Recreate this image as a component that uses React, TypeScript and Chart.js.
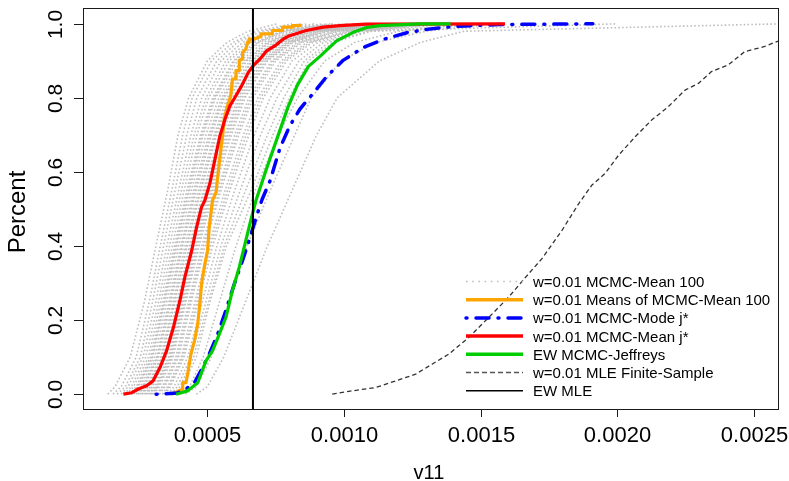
import React, { useEffect, useRef } from "react";
import { Chart, registerables } from "chart.js";

Chart.register(...registerables);

// ---- axes ----
const X_MIN = 4.54e-5;
const X_MAX = 2.591e-3;
const Y_MIN = -0.04;
const Y_MAX = 1.04;
const X_TICKS = [0.0005, 0.001, 0.0015, 0.002, 0.0025];
const X_TICK_LABELS = ["0.0005", "0.0010", "0.0015", "0.0020", "0.0025"];
const Y_TICKS = [0, 0.2, 0.4, 0.6, 0.8, 1.0];
const Y_TICK_LABELS = ["0.0", "0.2", "0.4", "0.6", "0.8", "1.0"];
const X_TITLE = "v11";
const Y_TITLE = "Percent";

const LEGEND_LABELS = [
  "w=0.01 MCMC-Mean 100",
  "w=0.01 Means of MCMC-Mean 100",
  "w=0.01 MCMC-Mode j*",
  "w=0.01 MCMC-Mean j*",
  "EW MCMC-Jeffreys",
  "w=0.01 MLE Finite-Sample",
  "EW MLE",
];

// ---- gray ECDF curves: x value at each percent level ----
const GRAY_LEVELS = [0, 0.02, 0.1, 0.25, 0.4, 0.55, 0.7, 0.8, 0.9, 0.95, 0.98, 1];
const GRAY_CURVES_X = [
  [1.36e-4, 1.62e-4, 2.18e-4, 2.7e-4, 3.12e-4, 3.55e-4, 3.93e-4, 4.32e-4, 5.0e-4, 5.72e-4, 6.5e-4, 7.55e-4],
  [1.55e-4, 1.85e-4, 2.4e-4, 2.88e-4, 3.28e-4, 3.7e-4, 4.1e-4, 4.45e-4, 5.15e-4, 5.95e-4, 6.8e-4, 8.1e-4],
  [1.7e-4, 2.0e-4, 2.55e-4, 3.0e-4, 3.4e-4, 3.82e-4, 4.25e-4, 4.62e-4, 5.35e-4, 6.1e-4, 7.0e-4, 8.4e-4],
  [1.85e-4, 2.1e-4, 2.65e-4, 3.12e-4, 3.52e-4, 3.95e-4, 4.4e-4, 4.8e-4, 5.5e-4, 6.3e-4, 7.2e-4, 8.6e-4],
  [1.95e-4, 2.22e-4, 2.75e-4, 3.22e-4, 3.62e-4, 4.05e-4, 4.52e-4, 4.95e-4, 5.68e-4, 6.45e-4, 7.35e-4, 8.9e-4],
  [2.05e-4, 2.3e-4, 2.85e-4, 3.3e-4, 3.72e-4, 4.15e-4, 4.62e-4, 5.05e-4, 5.8e-4, 6.6e-4, 7.5e-4, 9.2e-4],
  [2.15e-4, 2.4e-4, 2.92e-4, 3.38e-4, 3.8e-4, 4.25e-4, 4.75e-4, 5.2e-4, 5.95e-4, 6.75e-4, 7.7e-4, 9.4e-4],
  [2.2e-4, 2.45e-4, 2.98e-4, 3.42e-4, 3.85e-4, 4.3e-4, 4.8e-4, 5.25e-4, 6.0e-4, 6.85e-4, 7.8e-4, 9.5e-4],
  [2.25e-4, 2.48e-4, 3.0e-4, 3.45e-4, 3.88e-4, 4.35e-4, 4.85e-4, 5.3e-4, 6.1e-4, 6.9e-4, 7.85e-4, 9.6e-4],
  [2.32e-4, 2.55e-4, 3.08e-4, 3.52e-4, 3.95e-4, 4.42e-4, 4.95e-4, 5.42e-4, 6.22e-4, 7.05e-4, 8.0e-4, 9.9e-4],
  [2.4e-4, 2.62e-4, 3.15e-4, 3.6e-4, 4.03e-4, 4.5e-4, 5.05e-4, 5.52e-4, 6.35e-4, 7.18e-4, 8.15e-4, 1.01e-3],
  [2.45e-4, 2.66e-4, 3.18e-4, 3.64e-4, 4.07e-4, 4.55e-4, 5.1e-4, 5.58e-4, 6.4e-4, 7.25e-4, 8.2e-4, 1.02e-3],
  [2.48e-4, 2.7e-4, 3.22e-4, 3.68e-4, 4.1e-4, 4.6e-4, 5.15e-4, 5.62e-4, 6.45e-4, 7.3e-4, 8.3e-4, 1.04e-3],
  [2.55e-4, 2.78e-4, 3.3e-4, 3.75e-4, 4.18e-4, 4.68e-4, 5.25e-4, 5.72e-4, 6.55e-4, 7.42e-4, 8.45e-4, 1.06e-3],
  [2.6e-4, 2.82e-4, 3.34e-4, 3.8e-4, 4.24e-4, 4.74e-4, 5.3e-4, 5.78e-4, 6.62e-4, 7.5e-4, 8.55e-4, 1.08e-3],
  [2.62e-4, 2.85e-4, 3.36e-4, 3.82e-4, 4.26e-4, 4.76e-4, 5.35e-4, 5.82e-4, 6.65e-4, 7.55e-4, 8.6e-4, 1.09e-3],
  [2.7e-4, 2.92e-4, 3.43e-4, 3.9e-4, 4.34e-4, 4.85e-4, 5.45e-4, 5.92e-4, 6.75e-4, 7.65e-4, 8.75e-4, 1.11e-3],
  [2.75e-4, 2.96e-4, 3.47e-4, 3.94e-4, 4.38e-4, 4.9e-4, 5.5e-4, 5.97e-4, 6.8e-4, 7.72e-4, 8.82e-4, 1.12e-3],
  [2.78e-4, 3.0e-4, 3.5e-4, 3.98e-4, 4.42e-4, 4.95e-4, 5.55e-4, 6.02e-4, 6.85e-4, 7.78e-4, 8.9e-4, 1.14e-3],
  [2.85e-4, 3.08e-4, 3.58e-4, 4.06e-4, 4.5e-4, 5.05e-4, 5.65e-4, 6.12e-4, 6.95e-4, 7.9e-4, 9.05e-4, 1.16e-3],
  [2.9e-4, 3.12e-4, 3.62e-4, 4.1e-4, 4.55e-4, 5.1e-4, 5.7e-4, 6.18e-4, 7.02e-4, 7.96e-4, 9.12e-4, 1.17e-3],
  [2.95e-4, 3.16e-4, 3.66e-4, 4.14e-4, 4.6e-4, 5.15e-4, 5.75e-4, 6.25e-4, 7.08e-4, 8.02e-4, 9.2e-4, 1.19e-3],
  [3.0e-4, 3.2e-4, 3.7e-4, 4.18e-4, 4.65e-4, 5.2e-4, 5.82e-4, 6.32e-4, 7.15e-4, 8.1e-4, 9.3e-4, 1.2e-3],
  [3.05e-4, 3.25e-4, 3.75e-4, 4.22e-4, 4.7e-4, 5.25e-4, 5.88e-4, 6.38e-4, 7.2e-4, 8.15e-4, 9.4e-4, 1.22e-3],
  [3.15e-4, 3.35e-4, 3.85e-4, 4.32e-4, 4.8e-4, 5.38e-4, 6.0e-4, 6.52e-4, 7.35e-4, 8.3e-4, 9.6e-4, 1.25e-3],
  [3.2e-4, 3.4e-4, 3.9e-4, 4.37e-4, 4.86e-4, 5.44e-4, 6.08e-4, 6.6e-4, 7.42e-4, 8.4e-4, 9.72e-4, 1.26e-3],
  [3.25e-4, 3.45e-4, 3.95e-4, 4.42e-4, 4.92e-4, 5.5e-4, 6.15e-4, 6.68e-4, 7.5e-4, 8.48e-4, 9.85e-4, 1.28e-3],
  [3.35e-4, 3.55e-4, 4.05e-4, 4.55e-4, 5.05e-4, 5.65e-4, 6.32e-4, 6.85e-4, 7.7e-4, 8.65e-4, 1.01e-3, 1.3e-3],
  [3.4e-4, 3.6e-4, 4.1e-4, 4.62e-4, 5.12e-4, 5.74e-4, 6.42e-4, 6.95e-4, 7.8e-4, 8.75e-4, 1.02e-3, 1.32e-3],
  [3.45e-4, 3.65e-4, 4.15e-4, 4.68e-4, 5.2e-4, 5.82e-4, 6.52e-4, 7.05e-4, 7.9e-4, 8.85e-4, 1.03e-3, 1.33e-3],
  [3.55e-4, 3.78e-4, 4.28e-4, 4.82e-4, 5.35e-4, 6.0e-4, 6.72e-4, 7.3e-4, 8.1e-4, 9.05e-4, 1.05e-3, 1.35e-3],
  [3.68e-4, 3.9e-4, 4.4e-4, 4.95e-4, 5.5e-4, 6.2e-4, 6.95e-4, 7.55e-4, 8.35e-4, 9.25e-4, 1.07e-3, 1.4e-3],
  [3.8e-4, 4.0e-4, 4.5e-4, 5.05e-4, 5.62e-4, 6.4e-4, 7.2e-4, 7.8e-4, 8.55e-4, 9.45e-4, 1.09e-3, 1.55e-3],
  [3.9e-4, 4.1e-4, 4.6e-4, 5.1e-4, 5.7e-4, 6.6e-4, 7.4e-4, 8.0e-4, 8.7e-4, 9.6e-4, 1.1e-3, 2.0e-3],
  [3.95e-4, 4.35e-4, 4.85e-4, 5.45e-4, 6.05e-4, 6.75e-4, 7.6e-4, 8.3e-4, 9.3e-4, 1.04e-3, 1.2e-3, 1.45e-3],
  [4.2e-4, 4.6e-4, 5.15e-4, 5.8e-4, 6.45e-4, 7.3e-4, 8.2e-4, 8.8e-4, 9.9e-4, 1.12e-3, 1.3e-3, 1.55e-3],
  [4.6e-4, 5.0e-4, 5.6e-4, 6.4e-4, 7.2e-4, 8.1e-4, 9.0e-4, 9.75e-4, 1.13e-3, 1.28e-3, 1.44e-3, 2.6e-3],
];

// ---- orange: Means of MCMC-Mean 100 ----
const ORANGE_X = [
  3.68e-4, 4.1e-4, 4.1e-4, 4.22e-4, 4.28e-4, 4.4e-4, 4.53e-4, 4.65e-4, 4.74e-4, 4.79e-4, 4.89e-4, 5.01e-4,
  5.07e-4, 5.19e-4, 5.32e-4, 5.44e-4, 5.56e-4, 5.62e-4, 5.74e-4, 5.86e-4, 5.92e-4, 6.05e-4, 6.05e-4, 6.17e-4,
  6.17e-4, 6.29e-4, 6.29e-4, 6.41e-4, 6.47e-4, 6.53e-4, 6.53e-4, 6.72e-4, 6.96e-4, 6.96e-4, 7.38e-4, 7.38e-4,
  7.75e-4, 7.75e-4, 8.11e-4, 8.11e-4, 8.38e-4, 8.38e-4,
];
const ORANGE_Y = [
  0, 0.0135, 0.031, 0.031, 0.054, 0.108, 0.144, 0.19, 0.253, 0.298, 0.343, 0.388,
  0.451, 0.523, 0.545, 0.626, 0.698, 0.743, 0.779, 0.806, 0.851, 0.851, 0.874, 0.874,
  0.901, 0.905, 0.923, 0.932, 0.95, 0.95, 0.959, 0.959, 0.966, 0.973, 0.973, 0.982,
  0.982, 0.991, 0.991, 0.995, 0.995, 1.0,
];

// ---- blue: MCMC-Mode j* ----
const BLUE_X = [
  3.13e-4, 3.9e-4, 4.22e-4, 4.53e-4, 4.83e-4, 5.07e-4, 5.38e-4, 5.68e-4, 5.99e-4, 6.29e-4, 6.55e-4, 6.8e-4,
  7.0e-4, 7.29e-4, 7.66e-4, 8.02e-4, 8.39e-4, 8.88e-4, 9.37e-4, 9.98e-4, 1.071e-3, 1.144e-3, 1.23e-3, 1.303e-3,
  1.4e-3, 1.566e-3, 1.91e-3,
];
const BLUE_Y = [
  0, 0.003, 0.014, 0.031, 0.072, 0.108, 0.162, 0.226, 0.298, 0.361, 0.42, 0.48,
  0.525, 0.575, 0.665, 0.725, 0.77, 0.813, 0.858, 0.902, 0.936, 0.958, 0.976, 0.985,
  0.993, 0.998, 1.0,
];

// ---- red: MCMC-Mean j* ----
const RED_X = [
  1.93e-4, 2.24e-4, 2.48e-4, 2.78e-4, 3.02e-4, 3.27e-4, 3.51e-4, 3.76e-4, 4.0e-4, 4.18e-4, 4.43e-4, 4.61e-4,
  4.79e-4, 4.91e-4, 5.1e-4, 5.28e-4, 5.46e-4, 5.65e-4, 5.83e-4, 6.01e-4, 6.26e-4, 6.5e-4, 6.68e-4, 6.93e-4,
  7.17e-4, 7.48e-4, 7.78e-4, 8.01e-4, 8.62e-4, 9.24e-4, 9.85e-4, 1.08e-3, 1.589e-3,
];
const RED_Y = [
  0, 0.004, 0.014, 0.023, 0.036, 0.072, 0.117, 0.18, 0.253, 0.316, 0.388, 0.451,
  0.505, 0.523, 0.571, 0.634, 0.697, 0.743, 0.779, 0.801, 0.833, 0.869, 0.887, 0.905,
  0.927, 0.941, 0.959, 0.968, 0.982, 0.991, 0.995, 0.999, 1.0,
];

// ---- green: EW MCMC-Jeffreys ----
const GREEN_X = [
  3.86e-4, 4.28e-4, 4.65e-4, 4.95e-4, 5.19e-4, 5.44e-4, 5.68e-4, 5.92e-4, 6.17e-4, 6.41e-4, 6.59e-4, 6.78e-4,
  7.15e-4, 7.55e-4, 7.95e-4, 8.3e-4, 8.7e-4, 9.12e-4, 9.73e-4, 1.034e-3, 1.083e-3, 1.132e-3, 1.278e-3, 1.39e-3,
];
const GREEN_Y = [
  0, 0.009, 0.031, 0.09, 0.117, 0.162, 0.207, 0.28, 0.343, 0.415, 0.469, 0.523,
  0.605, 0.69, 0.775, 0.835, 0.885, 0.912, 0.954, 0.977, 0.99, 0.995, 1.0, 1.0,
];

// ---- black dashed: MLE Finite-Sample ----
const MLE_FS_X = [
  9.57e-4, 1.03e-3, 1.116e-3, 1.189e-3, 1.262e-3, 1.322e-3, 1.383e-3, 1.456e-3, 1.529e-3, 1.602e-3, 1.675e-3,
  1.724e-3, 1.797e-3, 1.858e-3, 1.906e-3, 1.955e-3, 2.004e-3, 2.065e-3, 2.125e-3, 2.186e-3, 2.247e-3, 2.296e-3,
  2.344e-3, 2.405e-3, 2.466e-3, 2.539e-3, 2.583e-3, 2.65e-3,
];
const MLE_FS_Y = [
  0, 0.009, 0.018, 0.036, 0.054, 0.081, 0.108, 0.153, 0.207, 0.262, 0.325,
  0.366, 0.442, 0.514, 0.564, 0.596, 0.645, 0.695, 0.74, 0.776, 0.821, 0.839,
  0.871, 0.889, 0.925, 0.939, 0.952, 0.965,
];

// ---- vertical line: EW MLE ----
const EW_MLE = 6.67e-4;

const FONT = "'Liberation Sans', Arial, Helvetica, sans-serif";

function pts(xs: number[], ys: number[]) {
  return xs.map((x, i) => ({ x, y: ys[i] }));
}

type LegendStyle = { color: string; width: number; dash: number[]; cap: CanvasLineCap };
const LEGEND_STYLES: LegendStyle[] = [
  { color: "#BEBEBE", width: 1.3, dash: [1.6, 4.6], cap: "butt" },
  { color: "#FFA500", width: 3.5, dash: [], cap: "butt" },
  { color: "#0000FF", width: 3.5, dash: [1, 9, 13, 9], cap: "round" },
  { color: "#FF0000", width: 3.5, dash: [], cap: "butt" },
  { color: "#00CD00", width: 3.5, dash: [], cap: "butt" },
  { color: "#555555", width: 1.3, dash: [5, 3], cap: "butt" },
  { color: "#000000", width: 1.6, dash: [], cap: "butt" },
];

const decorPlugin = {
  id: "decor",
  afterDraw(chart: any) {
    const { ctx, chartArea: a, scales } = chart;
    const xs = scales.x;
    const ys = scales.y;
    ctx.save();
    // box
    ctx.strokeStyle = "#1a1a1a";
    ctx.lineWidth = 1;
    ctx.setLineDash([]);
    ctx.strokeRect(a.left + 0.5, a.top - 0.5, a.right - a.left - 1, a.bottom - a.top + 1);
    // x ticks
    ctx.fillStyle = "#000";
    ctx.font = `22px ${FONT}`;
    ctx.textAlign = "center";
    ctx.textBaseline = "alphabetic";
    X_TICKS.forEach((v, i) => {
      const px = Math.round(xs.getPixelForValue(v)) + 0.5;
      ctx.beginPath();
      ctx.moveTo(px, a.bottom);
      ctx.lineTo(px, a.bottom + 8);
      ctx.stroke();
      ctx.fillText(X_TICK_LABELS[i], px, a.bottom + 33);
    });
    // y ticks
    ctx.font = `21px ${FONT}`;
    Y_TICKS.forEach((v, i) => {
      const py = Math.round(ys.getPixelForValue(v)) + 0.5;
      ctx.beginPath();
      ctx.moveTo(a.left - 9, py);
      ctx.lineTo(a.left, py);
      ctx.stroke();
      ctx.save();
      ctx.translate(a.left - 21.5, py);
      ctx.rotate(-Math.PI / 2);
      ctx.fillText(Y_TICK_LABELS[i], 0, 0);
      ctx.restore();
    });
    // titles
    ctx.font = `20px ${FONT}`;
    ctx.fillText(X_TITLE, (a.left + a.right) / 2 - 2, a.bottom + 70);
    ctx.save();
    ctx.font = `24px ${FONT}`;
    ctx.translate(a.left - 58, (a.top + a.bottom) / 2 + 3);
    ctx.rotate(-Math.PI / 2);
    ctx.fillText(Y_TITLE, 0, 0);
    ctx.restore();
    // legend
    ctx.font = `15px ${FONT}`;
    ctx.textAlign = "left";
    const lx0 = 466;
    const lx1 = 523;
    const tx = 533;
    LEGEND_LABELS.forEach((lab, i) => {
      const yy = 281.5 + i * 18.2;
      const st = LEGEND_STYLES[i];
      ctx.beginPath();
      ctx.strokeStyle = st.color;
      ctx.lineWidth = st.width;
      ctx.lineCap = st.cap;
      ctx.setLineDash(st.dash);
      ctx.moveTo(lx0, yy);
      ctx.lineTo(lx1, yy);
      ctx.stroke();
      ctx.setLineDash([]);
      ctx.fillStyle = "#000";
      ctx.fillText(lab, tx, yy + 5.5);
    });
    ctx.restore();
  },
};

export default function App() {
  const ref = useRef<HTMLCanvasElement>(null);
  useEffect(() => {
    const canvas = ref.current;
    if (!canvas) return;
    const datasets: any[] = [];
    GRAY_CURVES_X.forEach((xs, i) => {
      datasets.push({
        label: i === 0 ? LEGEND_LABELS[0] : LEGEND_LABELS[0] + " " + (i + 1),
        data: xs.map((x, j) => ({ x, y: GRAY_LEVELS[j] })),
        borderColor: "#BEBEBE",
        borderWidth: 1.6,
        borderDash: [1.6, 2.2],
        order: 10,
      });
    });
    datasets.push({
      label: LEGEND_LABELS[5],
      data: pts(MLE_FS_X, MLE_FS_Y),
      borderColor: "#333333",
      borderWidth: 1.3,
      borderDash: [4.5, 3],
      order: 6,
    });
    datasets.push({
      label: LEGEND_LABELS[1],
      data: pts(ORANGE_X, ORANGE_Y),
      borderColor: "#FFA500",
      borderWidth: 3.2,
      order: 5,
    });
    datasets.push({
      label: LEGEND_LABELS[2],
      data: pts(BLUE_X, BLUE_Y),
      borderColor: "#0000FF",
      borderWidth: 3.5,
      borderDash: [1, 9, 13, 9],
      borderCapStyle: "round",
      order: 4,
    });
    datasets.push({
      label: LEGEND_LABELS[3],
      data: pts(RED_X, RED_Y),
      borderColor: "#FF0000",
      borderWidth: 3.2,
      order: 3,
    });
    datasets.push({
      label: LEGEND_LABELS[4],
      data: pts(GREEN_X, GREEN_Y),
      borderColor: "#00CD00",
      borderWidth: 3.2,
      order: 2,
    });
    datasets.push({
      label: LEGEND_LABELS[6],
      data: [
        { x: EW_MLE, y: Y_MIN - 0.1 },
        { x: EW_MLE, y: Y_MAX + 0.1 },
      ],
      borderColor: "#000000",
      borderWidth: 2,
      order: 1,
    });

    const chart = new Chart(canvas, {
      type: "line",
      data: { datasets },
      options: {
        animation: false,
        responsive: false,
        layout: { padding: { left: 83, top: 9, right: 10, bottom: 72 } },
        elements: {
          point: { radius: 0, hoverRadius: 0 },
          line: { tension: 0, borderJoinStyle: "round", fill: false },
        },
        scales: {
          x: { type: "linear", min: X_MIN, max: X_MAX, display: false },
          y: { type: "linear", min: Y_MIN, max: Y_MAX, display: false },
        },
        plugins: { legend: { display: false }, tooltip: { enabled: false } },
        events: [],
      },
      plugins: [decorPlugin],
    } as any);
    return () => chart.destroy();
  }, []);
  return (
    <div style={{ position: "absolute", left: 0, top: 0, width: 789, height: 481, background: "#fff" }}>
      <canvas ref={ref} width={789} height={481} style={{ display: "block" }} />
    </div>
  );
}
